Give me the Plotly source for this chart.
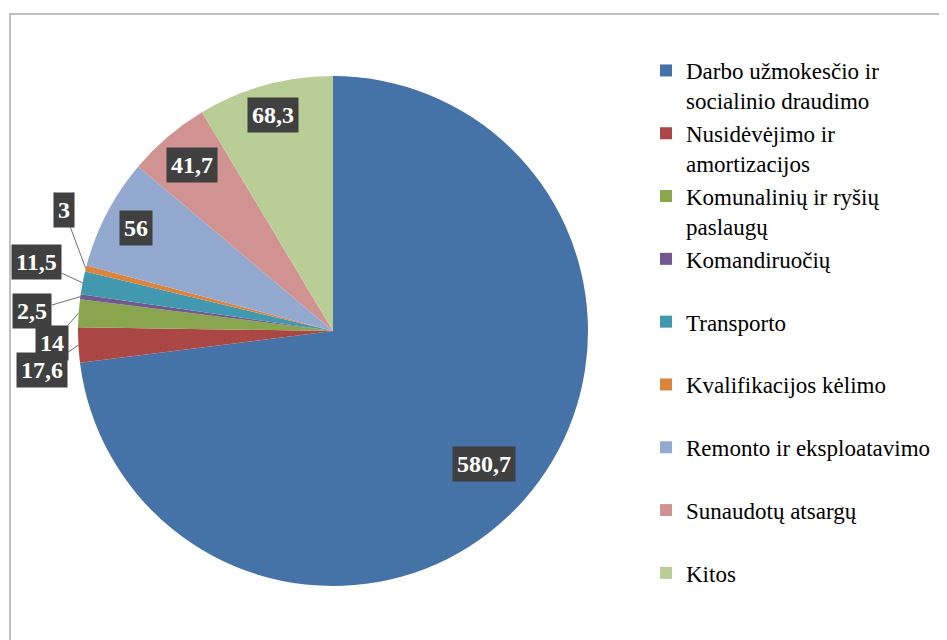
import math
import plotly.graph_objects as go

# ---- data ----
categories = [
    "Darbo užmokesčio ir<br>socialinio draudimo",
    "Nusidėvėjimo ir<br>amortizacijos",
    "Komunalinių ir ryšių<br>paslaugų",
    "Komandiruočių<br> ",
    "Transporto<br> ",
    "Kvalifikacijos kėlimo<br> ",
    "Remonto ir eksploatavimo<br> ",
    "Sunaudotų atsargų<br> ",
    "Kitos<br> ",
]
values = [580.7, 17.6, 14, 2.5, 11.5, 3, 56, 41.7, 68.3]
value_labels = ["580,7", "17,6", "14", "2,5", "11,5", "3", "56", "41,7", "68,3"]

# ---- style ----
colors = ["#4572A7", "#AA4643", "#89A54E", "#71588F", "#4198AF",
          "#DB843D", "#93A9CF", "#D19392", "#B9CD96"]
FONT = "Liberation Serif"
W, H = 947, 640
OFF = 8                              # page body margin
CX, CY, R = 333 - OFF, 331 - OFF, 255  # pie centre / radius in pixels
# label placement: inside -> radial factor; outside -> pixel offset (ax, ay)
label_place = [
    ("in", 0.79), ("out", (-36, 25)), ("out", (-27, 30)), ("out", (-48, 14)),
    ("out", (-46, -21)), ("out", (-22, -59)), ("in", 0.87), ("in", 0.855), ("in", 0.88),
]

fig = go.Figure(go.Pie(
    labels=categories,
    values=values,
    sort=False,
    direction="clockwise",
    rotation=0,
    marker=dict(colors=colors, line=dict(width=0)),
    textinfo="none",
    hoverinfo="none",
    domain=dict(x=[(CX - R) / W, (CX + R) / W],
                y=[(H - CY - R) / H, (H - CY + R) / H]),
))

total = sum(values)
cum = 0.0
annotations = []
for v, txt, (kind, p) in zip(values, value_labels, label_place):
    mid = (cum + v / 2) / total * 2 * math.pi
    cum += v
    sx, sy = math.sin(mid), math.cos(mid)
    common = dict(text="<b>" + txt + "</b>", bgcolor="#404040", borderpad=4,
                  font=dict(family=FONT, size=24, color="white"),
                  xref="paper", yref="paper")
    if kind == "in":
        px = CX + sx * R * p
        py = CY - sy * R * p
        annotations.append(dict(x=px / W, y=1 - py / H, showarrow=False,
                                xanchor="center", yanchor="middle", **common))
    else:
        px = CX + sx * R
        py = CY - sy * R
        annotations.append(dict(x=px / W, y=1 - py / H, showarrow=True,
                                arrowhead=0, arrowwidth=1, arrowcolor="#707070",
                                ax=p[0], ay=p[1], axref="pixel", ayref="pixel",
                                standoff=0, **common))

fig.update_layout(
    width=W, height=H,
    margin=dict(l=0, r=0, t=0, b=0),
    paper_bgcolor="white",
    showlegend=True,
    legend=dict(x=(646 - OFF) / W, y=1 - (49 - OFF) / H, xanchor="left", yanchor="top",
                font=dict(family=FONT, size=23, color="black"),
                valign="top", bgcolor="rgba(0,0,0,0)"),
    annotations=annotations,
    shapes=[dict(type="rect", xref="paper", yref="paper",
                 x0=(10 - OFF) / W, x1=1.05, y0=-0.05, y1=1 - (14 - OFF) / H,
                 line=dict(color="#BFBFBF", width=2))],
)

fig.write_html("out.html")
